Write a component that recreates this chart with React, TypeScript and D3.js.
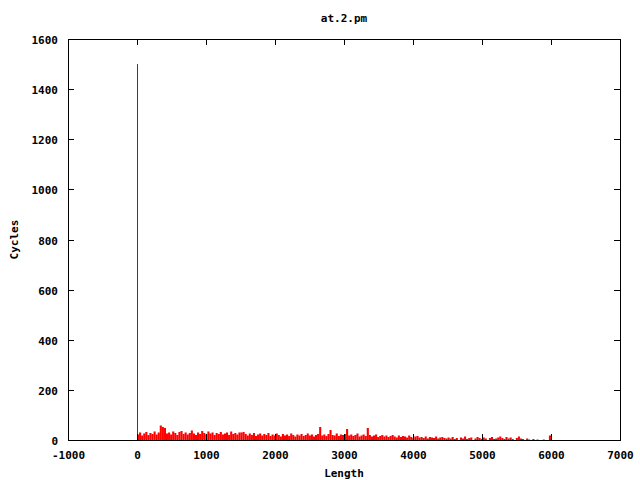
import { useMemo } from "react";
import * as d3 from "d3";

const WIDTH = 640;
const HEIGHT = 480;
const MARGIN = { top: 39, right: 20, bottom: 40, left: 68 };

const TITLE = "at.2.pm";
const X_LABEL = "Length";
const Y_LABEL = "Cycles";

const X_TICKS = [-1000, 0, 1000, 2000, 3000, 4000, 5000, 6000, 7000];
const Y_TICKS = [0, 200, 400, 600, 800, 1000, 1200, 1400, 1600];

// the one tall impulse near zero
const PEAK_LENGTH = 0;
const PEAK_CYCLES = 1500;

// impulses, one every 30 length units
const BIN_STEP = 30;
const cycles0to1500 = [
  22, 30, 18, 26, 32, 20, 28, 24, 34, 22, 30, 58, 52, 48, 26, 30, 22, 34, 28, 20,
  32, 36, 24, 30, 22, 28, 38, 26, 20, 30, 24, 36, 28, 22, 34, 26, 30, 20, 28, 24,
  32, 22, 26, 30, 20, 34, 24, 28, 22, 30,
];
const cycles1500to3000 = [
  30, 32, 24, 18, 26, 20, 28, 16, 22, 26, 18, 24, 20, 28, 16, 22, 18, 26, 20, 14,
  24, 18, 22, 16, 26, 20, 14, 22, 18, 24, 16, 20, 26, 18, 22, 14, 20, 24, 52, 18,
  22, 16, 24, 40, 20, 18, 26, 16, 22, 20,
];
const cycles3000to4500 = [
  24, 44, 18, 22, 16, 20, 26, 14, 18, 22, 16, 48, 20, 14, 18, 22, 12, 16, 20, 14,
  18, 12, 16, 20, 14, 10, 18, 12, 16, 14, 10, 18, 12, 8, 14, 16, 10, 12, 8, 14,
  6, 12, 10, 8, 14, 6, 10, 12, 8, 6,
];
const cycles4500to6000 = [
  10, 6, 12, 4, 8, 0, 10, 6, 14, 4, 8, 10, 0, 6, 12, 8, 4, 10, 6, 0,
  8, 12, 4, 6, 10, 14, 8, 4, 12, 6, 10, 4, 0, 8, 14, 6, 4, 0, 6, 2,
  0, 4, 0, 2, 0, 0, 2, 0, 0, 18,
];

const FONT = "'DejaVu Sans Mono', monospace";

export default function App() {
  const boundsWidth = WIDTH - MARGIN.left - MARGIN.right;
  const boundsHeight = HEIGHT - MARGIN.top - MARGIN.bottom;

  const xScale = useMemo(
    () => d3.scaleLinear().domain([-1000, 7000]).range([0, boundsWidth]),
    [boundsWidth]
  );
  const yScale = useMemo(
    () => d3.scaleLinear().domain([0, 1600]).range([boundsHeight, 0]),
    [boundsHeight]
  );

  const impulses = useMemo(() => {
    const all = [
      ...cycles0to1500,
      ...cycles1500to3000,
      ...cycles3000to4500,
      ...cycles4500to6000,
    ];
    return all.map((c, i) => ({ length: i * BIN_STEP + 15, cycles: c }));
  }, []);

  const tickLen = 6;

  return (
    <svg
      width={WIDTH}
      height={HEIGHT}
      style={{ position: "absolute", left: 0, top: 0, background: "#fff" }}
    >
      <text
        x={MARGIN.left + boundsWidth / 2}
        y={22}
        textAnchor="middle"
        fontFamily={FONT}
        fontWeight="bold"
        fontSize={11}
      >
        {TITLE}
      </text>
      <g transform={`translate(${MARGIN.left},${MARGIN.top})`}>
        {impulses.map((d, i) =>
          d.cycles > 0 ? (
            <line
              key={i}
              x1={xScale(d.length)}
              x2={xScale(d.length)}
              y1={boundsHeight}
              y2={yScale(d.cycles)}
              stroke="#ff0000"
              strokeWidth={2.1}
            />
          ) : null
        )}
        <line
          x1={Math.round(xScale(PEAK_LENGTH)) + 0.5}
          x2={Math.round(xScale(PEAK_LENGTH)) + 0.5}
          y1={boundsHeight}
          y2={yScale(PEAK_CYCLES)}
          stroke="#d00000"
          strokeWidth={1}
        />

        {/* ticks on all four sides, pointing in */}
        {Y_TICKS.map((t) => {
          const y = Math.round(yScale(t)) + 0.5;
          return (
            <g key={"y" + t}>
              <line x1={0} x2={tickLen} y1={y} y2={y} stroke="#000" />
              <line
                x1={boundsWidth - tickLen}
                x2={boundsWidth}
                y1={y}
                y2={y}
                stroke="#000"
              />
              <text
                x={-10}
                y={y + 4}
                textAnchor="end"
                fontFamily={FONT}
                fontWeight="bold"
                fontSize={11}
              >
                {t}
              </text>
            </g>
          );
        })}
        {X_TICKS.map((t) => {
          const x = Math.round(xScale(t)) + 0.5;
          return (
            <g key={"x" + t}>
              <line
                x1={x}
                x2={x}
                y1={boundsHeight}
                y2={boundsHeight - tickLen}
                stroke="#000"
              />
              <line x1={x} x2={x} y1={0} y2={tickLen} stroke="#000" />
              <text
                x={x}
                y={boundsHeight + 19}
                textAnchor="middle"
                fontFamily={FONT}
                fontWeight="bold"
                fontSize={11}
              >
                {t}
              </text>
            </g>
          );
        })}
        <rect
          x={0.5}
          y={0.5}
          width={boundsWidth}
          height={boundsHeight}
          fill="none"
          stroke="#000"
        />
        <text
          x={boundsWidth / 2}
          y={boundsHeight + 37}
          textAnchor="middle"
          fontFamily={FONT}
          fontWeight="bold"
          fontSize={11}
        >
          {X_LABEL}
        </text>
        <text
          transform={`translate(${-50},${boundsHeight / 2}) rotate(-90)`}
          textAnchor="middle"
          fontFamily={FONT}
          fontWeight="bold"
          fontSize={11}
        >
          {Y_LABEL}
        </text>
      </g>
    </svg>
  );
}
